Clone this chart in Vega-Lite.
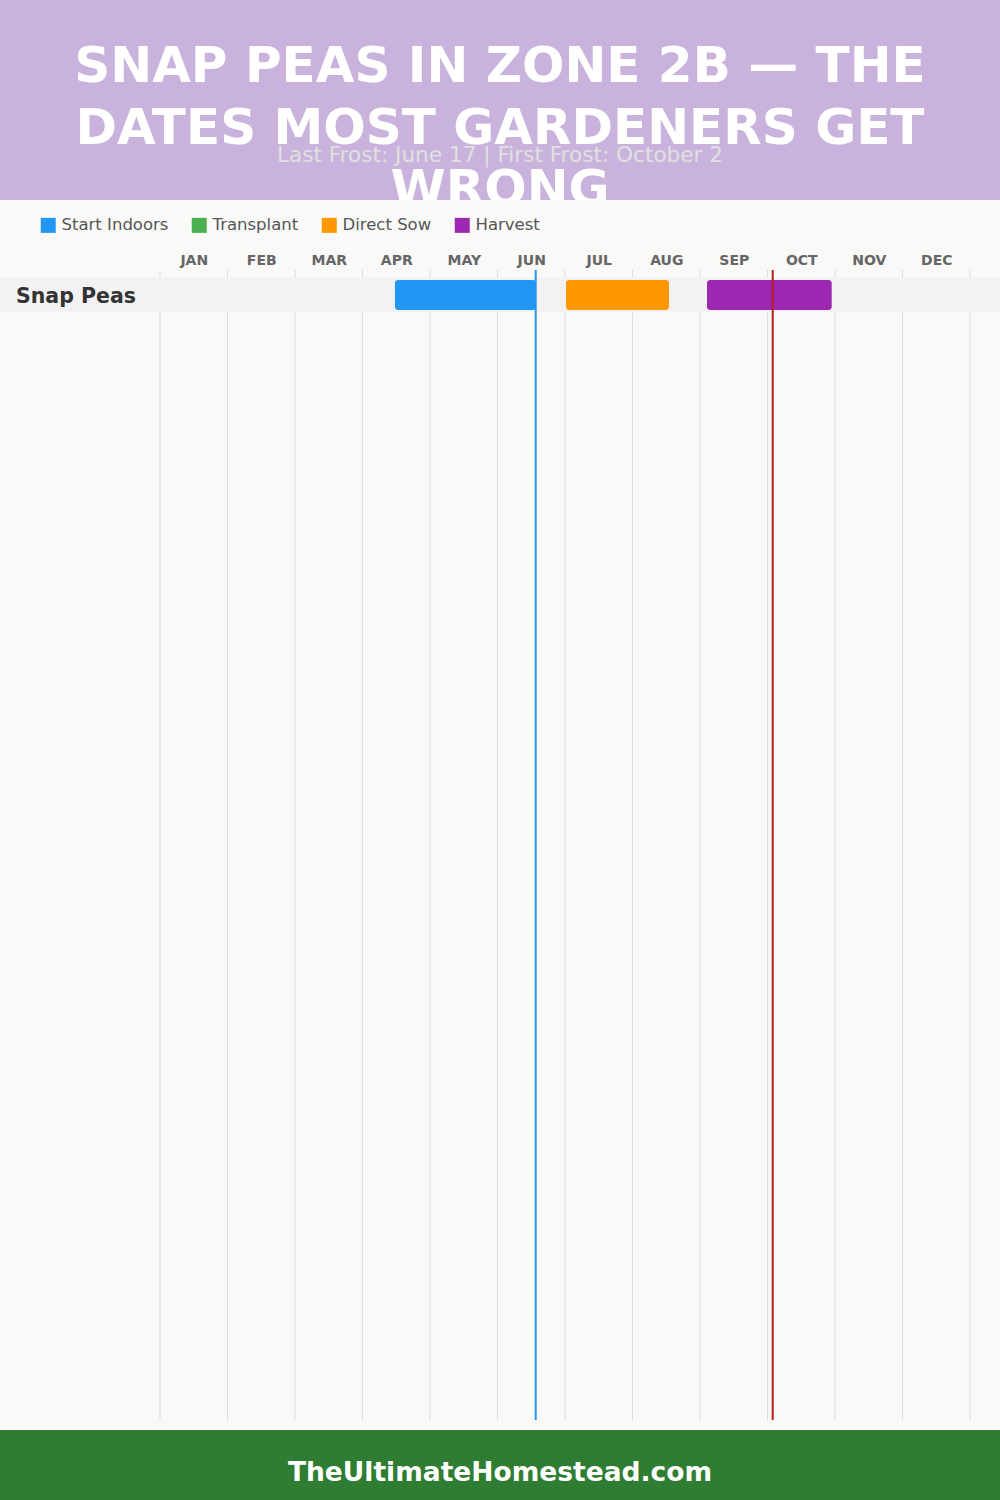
{
  "$schema": "https://vega.github.io/schema/vega-lite/v6.json",
  "background": "#f9f9f7",
  "padding": 0,
  "spacing": 0,
  "bounds": "flush",
  "config": {"font": "DejaVu Sans", "view": {"stroke": null}},
  "datasets": {
    "bounds": [{"b": 0}, {"b": 1}, {"b": 2}, {"b": 3}, {"b": 4}, {"b": 5}, {"b": 6}, {"b": 7}, {"b": 8}, {"b": 9}, {"b": 10}, {"b": 11}, {"b": 12}],
    "crops": [{"crop": "Snap Peas"}],
    "tasks": [
      {"crop": "Snap Peas", "stage": "Start Indoors", "start": 3.481, "end": 5.57},
      {"crop": "Snap Peas", "stage": "Direct Sow", "start": 6.015, "end": 7.541},
      {"crop": "Snap Peas", "stage": "Harvest", "start": 8.104, "end": 9.951}
    ],
    "frost": [
      {"event": "Last Frost", "date": 5.566},
      {"event": "First Frost", "date": 9.077}
    ]
  },
  "vconcat": [
    {
      "width": 1000,
      "height": 200,
      "view": {"fill": "#c9b3dd", "stroke": null},
      "data": {"values": [{"title": "SNAP PEAS IN ZONE 2B — THE\nDATES MOST GARDENERS GET\nWRONG", "sub": "Last Frost: June 17 | First Frost: October 2"}]},
      "layer": [
        {
          "mark": {"type": "text", "lineBreak": "\n", "fontSize": 50, "fontWeight": "bold", "font": "DejaVu Sans", "color": "#ffffff", "baseline": "alphabetic", "lineHeight": 61.5, "dy": -18, "clip": true},
          "encoding": {"text": {"field": "title"}}
        },
        {
          "mark": {"type": "text", "fontSize": 21.6, "font": "DejaVu Sans", "color": "#e0e0e0", "baseline": "alphabetic", "dy": 62},
          "encoding": {"text": {"field": "sub"}}
        }
      ]
    },
    {
      "width": 1000,
      "height": 70,
      "data": {"values": [{"spacer": 1}]},
      "mark": {"type": "point", "opacity": 0}
    },
    {
      "width": 1000,
      "height": 1150,
      "layer": [
        {
          "data": {"name": "bounds"},
          "mark": {"type": "rule", "color": "#dddddd", "strokeWidth": 1},
          "encoding": {
            "x": {
              "field": "b", "type": "quantitative",
              "scale": {"domain": [-2.37037, 12.44444], "nice": false, "zero": false},
              "axis": {
                "orient": "top", "values": [0.5, 1.5, 2.5, 3.5, 4.5, 5.5, 6.5, 7.5, 8.5, 9.5, 10.5, 11.5],
                "labelExpr": "['JAN','FEB','MAR','APR','MAY','JUN','JUL','AUG','SEP','OCT','NOV','DEC'][floor(datum.value)]",
                "domain": false, "ticks": false, "tickSize": 0, "grid": false, "title": null,
                "labelFontSize": 14, "labelFontWeight": "bold", "labelColor": "#666666", "labelPadding": 3, "labelFont": "DejaVu Sans"
              }
            }
          }
        },
        {
          "data": {"name": "crops"},
          "mark": {"type": "bar", "color": "#f2f2f2"},
          "encoding": {
            "y": {
              "field": "crop", "type": "nominal",
              "scale": {"domain": ["Snap Peas"], "range": [7.7, 42.3], "paddingInner": 0, "paddingOuter": 0},
              "axis": {"orient": "left", "domain": false, "ticks": false, "tickSize": 0, "grid": false, "title": null, "zindex": 2,
                "labelAlign": "left", "labelPadding": -15.5, "labelOffset": 2, "labelFontSize": 20.5, "labelFontWeight": "bold", "labelColor": "#333333", "labelFont": "DejaVu Sans"}
            }
          }
        },
        {
          "data": {"name": "tasks"},
          "mark": {"type": "bar", "height": 30, "cornerRadius": 3},
          "encoding": {
            "y": {"field": "crop", "type": "nominal"},
            "x": {"field": "start", "type": "quantitative"},
            "x2": {"field": "end"},
            "color": {
              "field": "stage", "type": "nominal",
              "scale": {"domain": ["Start Indoors", "Transplant", "Direct Sow", "Harvest"], "range": ["#2196f3", "#4caf50", "#ff9800", "#9c27b0"]},
              "legend": {"orient": "none", "legendX": 40, "legendY": 217, "direction": "horizontal", "title": null,
                "symbolType": "square", "symbolSize": 225, "symbolStrokeWidth": 0, "symbolOpacity": 1,
                "labelFontSize": 16.5, "labelColor": "#555555", "labelFont": "DejaVu Sans", "labelOffset": 5, "columnPadding": 22}
            }
          }
        },
        {
          "data": {"name": "frost"},
          "mark": {"type": "rule", "strokeWidth": 2},
          "encoding": {
            "x": {"field": "date", "type": "quantitative"},
            "stroke": {"field": "event", "type": "nominal", "scale": {"domain": ["Last Frost", "First Frost"], "range": ["#2196f3", "#b71c1c"]}, "legend": null}
          }
        }
      ]
    },
    {
      "width": 1000,
      "height": 10,
      "data": {"values": [{"spacer": 1}]},
      "mark": {"type": "point", "opacity": 0}
    },
    {
      "width": 1000,
      "height": 70,
      "view": {"fill": "#2e7d32", "stroke": null},
      "data": {"values": [{"site": "TheUltimateHomestead.com"}]},
      "mark": {"type": "text", "fontSize": 26.5, "fontWeight": "bold", "font": "DejaVu Sans", "color": "#ffffff", "baseline": "alphabetic", "dy": 15.7},
      "encoding": {"text": {"field": "site"}}
    }
  ]
}
